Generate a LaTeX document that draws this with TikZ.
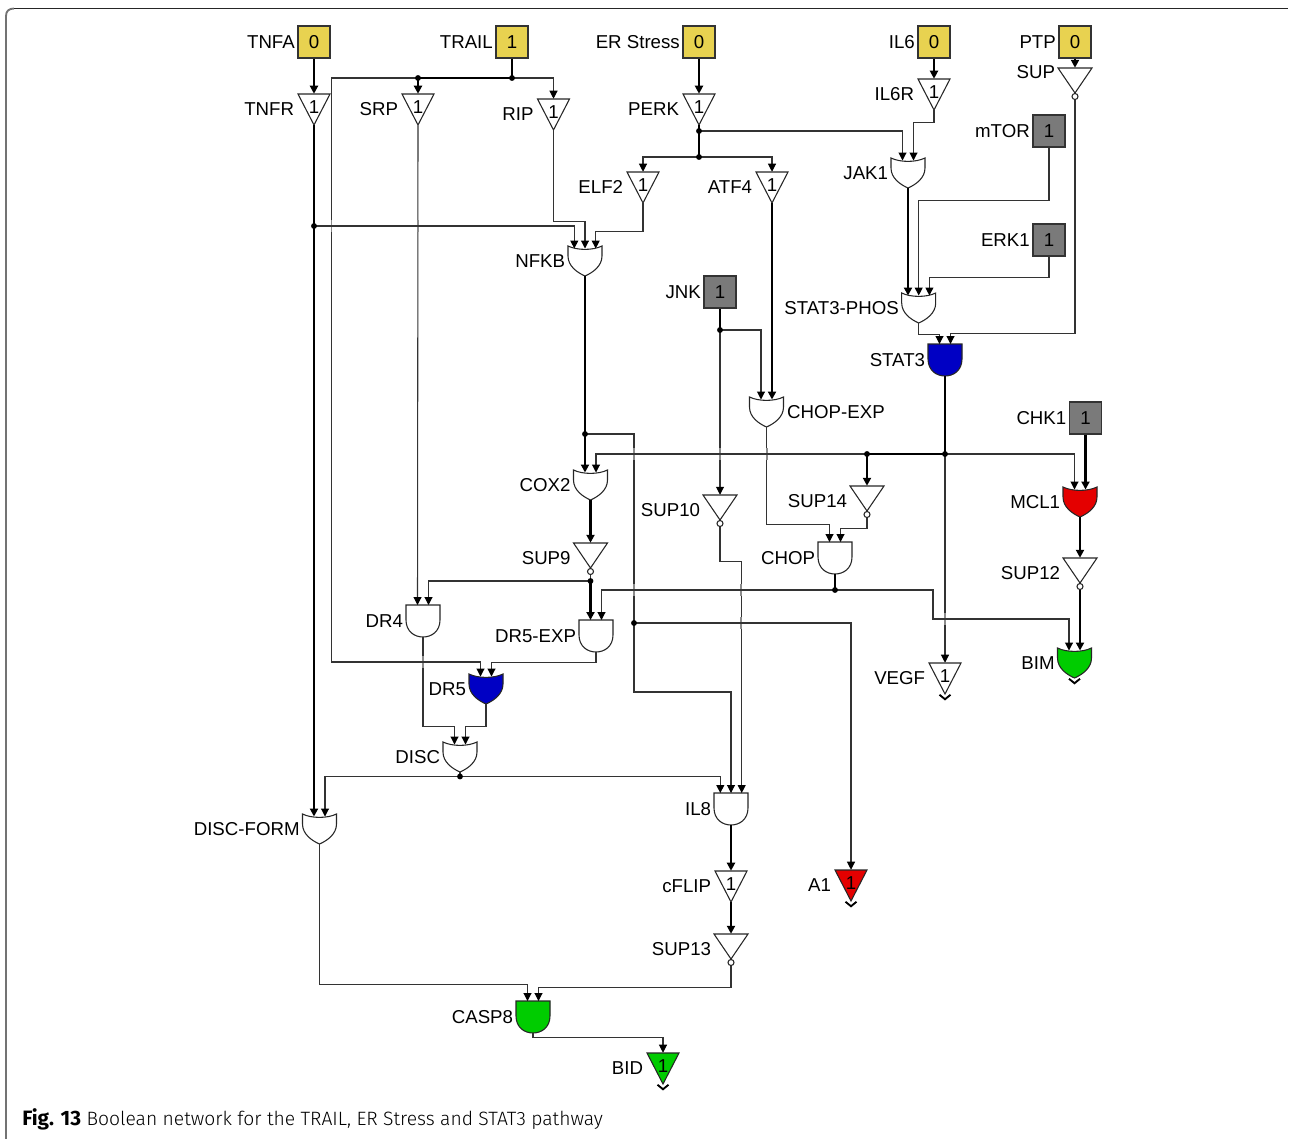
\documentclass[tikz,border=0pt]{standalone}
\usepackage{fontspec}
\setmainfont{Liberation Sans}
\newfontfamily\capfont{Fira Sans Light}
\newfontfamily\capboldfont{Fira Sans}
\usetikzlibrary{arrows.meta, positioning}
\definecolor{inYellow}{HTML}{E8D250}
\definecolor{inGrey}{HTML}{7A7A7A}
\definecolor{gateBlue}{HTML}{0000C4}
\definecolor{gateRed}{HTML}{E40000}
\definecolor{gateGreen}{HTML}{00CC00}
\definecolor{wireGrey}{HTML}{333333}
\tikzset{
  lbl/.style      = {font=\fontsize{14}{16}\selectfont, inner sep=0pt, text height=10pt, text depth=0pt},
  wire/.style     = {wireGrey, line width=0.8pt},
  wirethick/.style= {black, line width=1.9pt},
  tip/.style      = {-{Triangle[length=6pt,width=6pt,color=black,fill=black]}},
  gateline/.style = {black!85, line width=0.8pt},
  gatebox/.style  = {inner sep=0pt, minimum width=25.5pt, minimum height=#1},
  inbox/.style    = {lbl, draw=wireGrey, line width=0.8pt, fill=#1, minimum size=24pt},
  jdot/.style     = {circle, fill=black, inner sep=0pt, minimum size=4.4pt},
  outmark/.style  = {black, line width=1.4pt},
  crossmark/.style= {black!45, line width=0.9pt},
}
% gates: cx, top edge; inputs named -l -m -r (three) and -p -q (two)
\newcommand{\gateinputs}[2]{%
  \coordinate (#1-l) at (-10.7,#2); \coordinate (#1-m) at (0,#2); \coordinate (#1-r) at (10.7,#2);
  \coordinate (#1-p) at (-5.5,#2); \coordinate (#1-q) at (5.5,#2);}
\newcommand{\andgate}[4][white]{%
  \begin{scope}[shift={(#3,#4)}]
    \node[gatebox=24pt] (#2) at (0,16) {};
    \filldraw[gateline, fill=#1] (-17,0) -- (-17,15) .. controls (-17,26) and (-9,32) .. (0,32)
      .. controls (9,32) and (17,26) .. (17,15) -- (17,0) -- cycle;
    \gateinputs{#2}{0}
  \end{scope}}
\newcommand{\orgate}[4][white]{%
  \begin{scope}[shift={(#3,#4)}]
    \node[gatebox=22.5pt] (#2) at (0,15) {};
    \filldraw[gateline, fill=#1] (-17,0) .. controls (-8,4.5) and (8,4.5) .. (17,0) -- (17,10)
      .. controls (17,20) and (8,26.5) .. (0,30) .. controls (-8,26.5) and (-17,20) .. (-17,10) -- cycle;
    \gateinputs{#2}{2.5}
  \end{scope}}
\newcommand{\bufgate}[4][white]{%
  \begin{scope}[shift={(#3,#4)}]
    \node[gatebox=23.25pt] (#2) at (0,15.5) {};
    \filldraw[gateline, fill=#1] (-16,0) -- (16,0) -- (0,31) -- cycle;
    \node[lbl] (#2-val) at (0,13) {1};
  \end{scope}}
\newcommand{\notgate}[3]{%
  \begin{scope}[shift={(#2,#3)}]
    \node[gatebox=23.6pt] (#1) at (0,15.75) {};
    \draw[gateline] (-17,0) -- (17,0) -- (0,25) -- cycle;
    \filldraw[gateline, fill=white] (0,28.5) circle (3);
  \end{scope}}

\begin{document}
\begin{tikzpicture}[x=0.75pt,y=-0.75pt]
  \useasboundingbox (0,0) rectangle (1289,1139);
  % page frame
  \draw[black!55, line width=1.4pt] (6,1139) -- (6,16) .. controls (6,11) and (9,8.5) .. (14,8.5);
  \draw[black!85, line width=0.9pt] (14,8.5) -- (1288,8.5);
  % input boxes
  \node[inbox=inYellow] (tnfa) at (314,42) {0};
  \node[inbox=inYellow] (trail) at (512,42) {1};
  \node[inbox=inYellow] (er) at (699,42) {0};
  \node[inbox=inYellow] (il6) at (934,42) {0};
  \node[inbox=inYellow] (ptp) at (1075,42) {0};
  \node[inbox=inGrey] (mtor) at (1049,131) {1};
  \node[inbox=inGrey] (erk1) at (1049,240) {1};
  \node[inbox=inGrey] (jnk) at (720,292) {1};
  \node[inbox=inGrey] (chk1) at (1085.5,418) {1};
  % buffers and inverters
  \bufgate{tnfr}{314}{94}
  \bufgate{srp}{418}{94}
  \bufgate{rip}{553.5}{99}
  \bufgate{perk}{699}{94}
  \bufgate{elf2}{643}{172}
  \bufgate{atf4}{772}{172}
  \bufgate{il6r}{934}{79}
  \bufgate{vegf}{945}{663}
  \bufgate{cflip}{731}{871}
  \bufgate[gateRed]{a1}{851}{870}
  \bufgate[gateGreen]{bid}{663}{1053}
  \notgate{sup}{1075}{68}
  \notgate{sup10}{720}{495}
  \notgate{sup14}{867}{486}
  \notgate{sup9}{590.5}{543}
  \notgate{sup12}{1080}{558}
  \notgate{sup13}{731}{934}
  % or gates
  \orgate{nfkb}{585}{246}
  \orgate{jak1}{908}{158}
  \orgate{phos}{918.7}{293}
  \orgate{chopexp}{766.5}{397}
  \orgate{cox2}{590.5}{470}
  \orgate[gateRed]{mcl1}{1080}{487}
  \orgate[gateBlue]{dr5}{486}{674}
  \orgate{disc}{460}{742}
  \orgate{discform}{319.5}{814}
  \orgate[gateGreen]{bim}{1074.5}{648}
  % and gates
  \andgate[gateBlue]{stat3}{945}{344}
  \andgate{chop}{835}{542}
  \andgate{dr4}{423}{605}
  \andgate{dr5exp}{596}{620}
  \andgate{il8}{731}{793}
  \andgate[gateGreen]{casp8}{533}{1001}
  % labels
  \foreach \gate/\txt in {tnfa/TNFA, trail/TRAIL, er/ER Stress, il6/IL6, ptp/PTP, mtor/mTOR, erk1/ERK1,
      jnk/JNK, chk1/CHK1, tnfr/TNFR, srp/SRP, rip/RIP, perk/PERK, elf2/ELF2, atf4/ATF4, il6r/IL6R,
      vegf/VEGF, cflip/cFLIP, a1/A1, bid/BID, sup10/SUP10, sup14/SUP14, sup9/SUP9, sup12/SUP12,
      sup13/SUP13, nfkb/NFKB, jak1/JAK1, phos/STAT3-PHOS, cox2/COX2, mcl1/MCL1, dr5/DR5, disc/DISC,
      discform/DISC-FORM, bim/BIM, stat3/STAT3, chop/CHOP, dr4/DR4, dr5exp/DR5-EXP, il8/IL8, casp8/CASP8}
    \node[lbl, left=1.8pt of \gate, yshift=0.5pt] (\gate-lbl) {\txt};
  \node[lbl, left=1.8pt of sup, yshift=9pt] (sup-lbl) {SUP};
  \node[lbl, right=2.4pt of chopexp, yshift=0.5pt] (chopexp-lbl) {CHOP-EXP};
  % junctions
  \coordinate (jtrail) at (512,78);
  \coordinate (jsrp) at (418,78);
  \coordinate (jtnfr) at (314,226);
  \coordinate (jperka) at (699,131);
  \coordinate (jperkb) at (699,157);
  \coordinate (jnfkb) at (585,434);
  \coordinate (ja1) at (634,623);
  \coordinate (jjnk) at (720,330);
  \coordinate (jstat) at (945,454);
  \coordinate (jsup14) at (867,454);
  \coordinate (jchop) at (835,590);
  \coordinate (jsup9) at (590.5,581);
  \coordinate (jdisc) at (460,776.5);
  % thin wires
  \draw[wire, tip] (jtrail) -| (rip.north);
  \draw[wire, tip] (jsrp) -- ++(-86.5,0) -- ++(0,584) -| (dr5-p);
  \draw[wire, tip] (srp.south) -- (dr4-p);
  \draw[wire, tip] (rip.south) -- ++(0,91) -| (nfkb-m);
  \draw[wire, tip] (jtnfr) -| (nfkb-l);
  \draw[wire, tip] (elf2.south) -- ++(0,28) -| (nfkb-r);
  \draw[wire, tip] (jperka) -| (jak1-p);
  \draw[wire, tip] (jperkb) -| (elf2.north);
  \draw[wire, tip] (jperkb) -| (atf4.north);
  \draw[wire, tip] (il6r.south) -- ++(0,12) -| (jak1-q);
  \draw[wire, tip] (mtor.south) -- ++(0,53) -| (phos-m);
  \draw[wire, tip] (erk1.south) -- ++(0,21) -| (phos-r);
  \draw[wire, tip] (phos.south) -- ++(0,11) -| (stat3-p);
  \draw[wire, tip] (sup.south) -- ++(0,234) -| (stat3-q);
  \draw[wire, tip] (jjnk) -| (chopexp-p);
  \draw[wire, tip] (jjnk) -- (sup10.north);
  \draw[wire] (jnfkb) -| (ja1);
  \draw[wire, tip] (ja1) -- ++(0,69) -| (il8-m);
  \draw[wire, tip] (ja1) -| (a1.north);
  \draw[wire, tip] (jsup14) -| (cox2-q);
  \draw[wire, tip] (jstat) -| (mcl1-p);
  \draw[wire, tip] (jstat) -- (vegf.north);
  \draw[wire, tip] (chopexp.south) -- ++(0,97) -| (chop-p);
  \draw[wire, tip] (sup14.south) -- ++(0,11) -| (chop-q);
  \draw[wire, tip] (sup10.south) -- ++(0,35) -| (il8-r);
  \draw[wire] (sup9.south) -- (jsup9);
  \draw[wire, tip] (jsup9) -| (dr4-q);
  \draw[wire, tip] (jchop) -| (dr5exp-q);
  \draw[wire, tip] (jchop) -- ++(98,0) -- ++(0,29) -| (bim-p);
  \draw[wire, tip] (dr5exp.south) -- ++(0,10) -| (dr5-q);
  \draw[wire, tip] (dr4.south) -- ++(0,89) -| (disc-p);
  \draw[wire, tip] (dr5.south) -- ++(0,22) -| (disc-q);
  \draw[wire] (disc.south) -- (jdisc);
  \draw[wire, tip] (jdisc) -| (discform-q);
  \draw[wire, tip] (jdisc) -| (il8-l);
  \draw[wire, tip] (discform.south) -- ++(0,140) -| (casp8-p);
  \draw[wire, tip] (sup13.south) -- ++(0,22) -| (casp8-q);
  \draw[wire, tip] (casp8.south) -- ++(0,4) -| (bid.north);
  % thick wires
  \draw[wirethick, tip] (tnfa) -- (tnfr.north);
  \draw[wirethick] (trail) -- (jtrail);
  \draw[wirethick] (jtrail) -- (jsrp);
  \draw[wirethick, tip] (jsrp) -- (srp.north);
  \draw[wirethick, tip] (tnfr.south) -- (discform-p);
  \draw[wirethick, tip] (er) -- (perk.north);
  \draw[wirethick] (perk.south) -- (jperkb);
  \draw[wirethick, tip] (il6) -- (il6r.north);
  \draw[wirethick, tip] (ptp) -- (sup.north);
  \draw[wirethick, tip] (jak1.south) -- (phos-l);
  \draw[wirethick, tip] (atf4.south) -- (chopexp-q);
  \draw[wirethick] (jnk) -- (jjnk);
  \draw[wirethick] (stat3.south) -- (jstat);
  \draw[wirethick] (jstat) -- (jsup14);
  \draw[wirethick, tip] (jsup14) -- (sup14.north);
  \draw[wirethick, tip] (chk1) -- (mcl1-q);
  \draw[wirethick, tip] (mcl1.south) -- (sup12.north);
  \draw[wirethick, tip] (sup12.south) -- (bim-q);
  \draw[wirethick] (nfkb.south) -- (jnfkb);
  \draw[wirethick, tip] (jnfkb) -- (cox2-p);
  \draw[wirethick, tip] (cox2.south) -- (sup9.north);
  \draw[wirethick, tip] (jsup9) -- (dr5exp-p);
  \draw[wirethick] (chop.south) -- (jchop);
  \draw[wirethick, tip] (il8.south) -- (cflip.north);
  \draw[wirethick, tip] (cflip.south) -- (sup13.north);
  % junction dots, on top of the wires
  \foreach \j in {jtrail, jsrp, jtnfr, jperka, jperkb, jnfkb, ja1, jjnk, jstat, jsup14, jchop, jsup9, jdisc}
    \node[jdot] (\j-dot) at (\j) {};
  % line crossings
  \foreach \x/\y in {331.5/226, 418/226, 634/454, 720/454, 767/454, 634/590, 741/590, 741/623, 945/619, 423/662}
    \draw[crossmark] (\x,\y-6) -- (\x,\y-1) (\x,\y+1) -- (\x,\y+6);
  % output marks
  \foreach \gate in {vegf, a1, bid, bim}
    \draw[outmark] ([shift={(-5.5,0.5)}]\gate.south) -- ([shift={(0,5)}]\gate.south) -- ([shift={(5.5,0.5)}]\gate.south);
  % caption
  \node[anchor=west, inner sep=0pt, font=\capfont\fontsize{14.48}{17}\selectfont] (caption) at (22,1119)
    {{\capboldfont\bfseries\fontsize{15.6}{17}\selectfont Fig. 13} Boolean network for the TRAIL, ER Stress and STAT3 pathway};
\end{tikzpicture}
\end{document}
